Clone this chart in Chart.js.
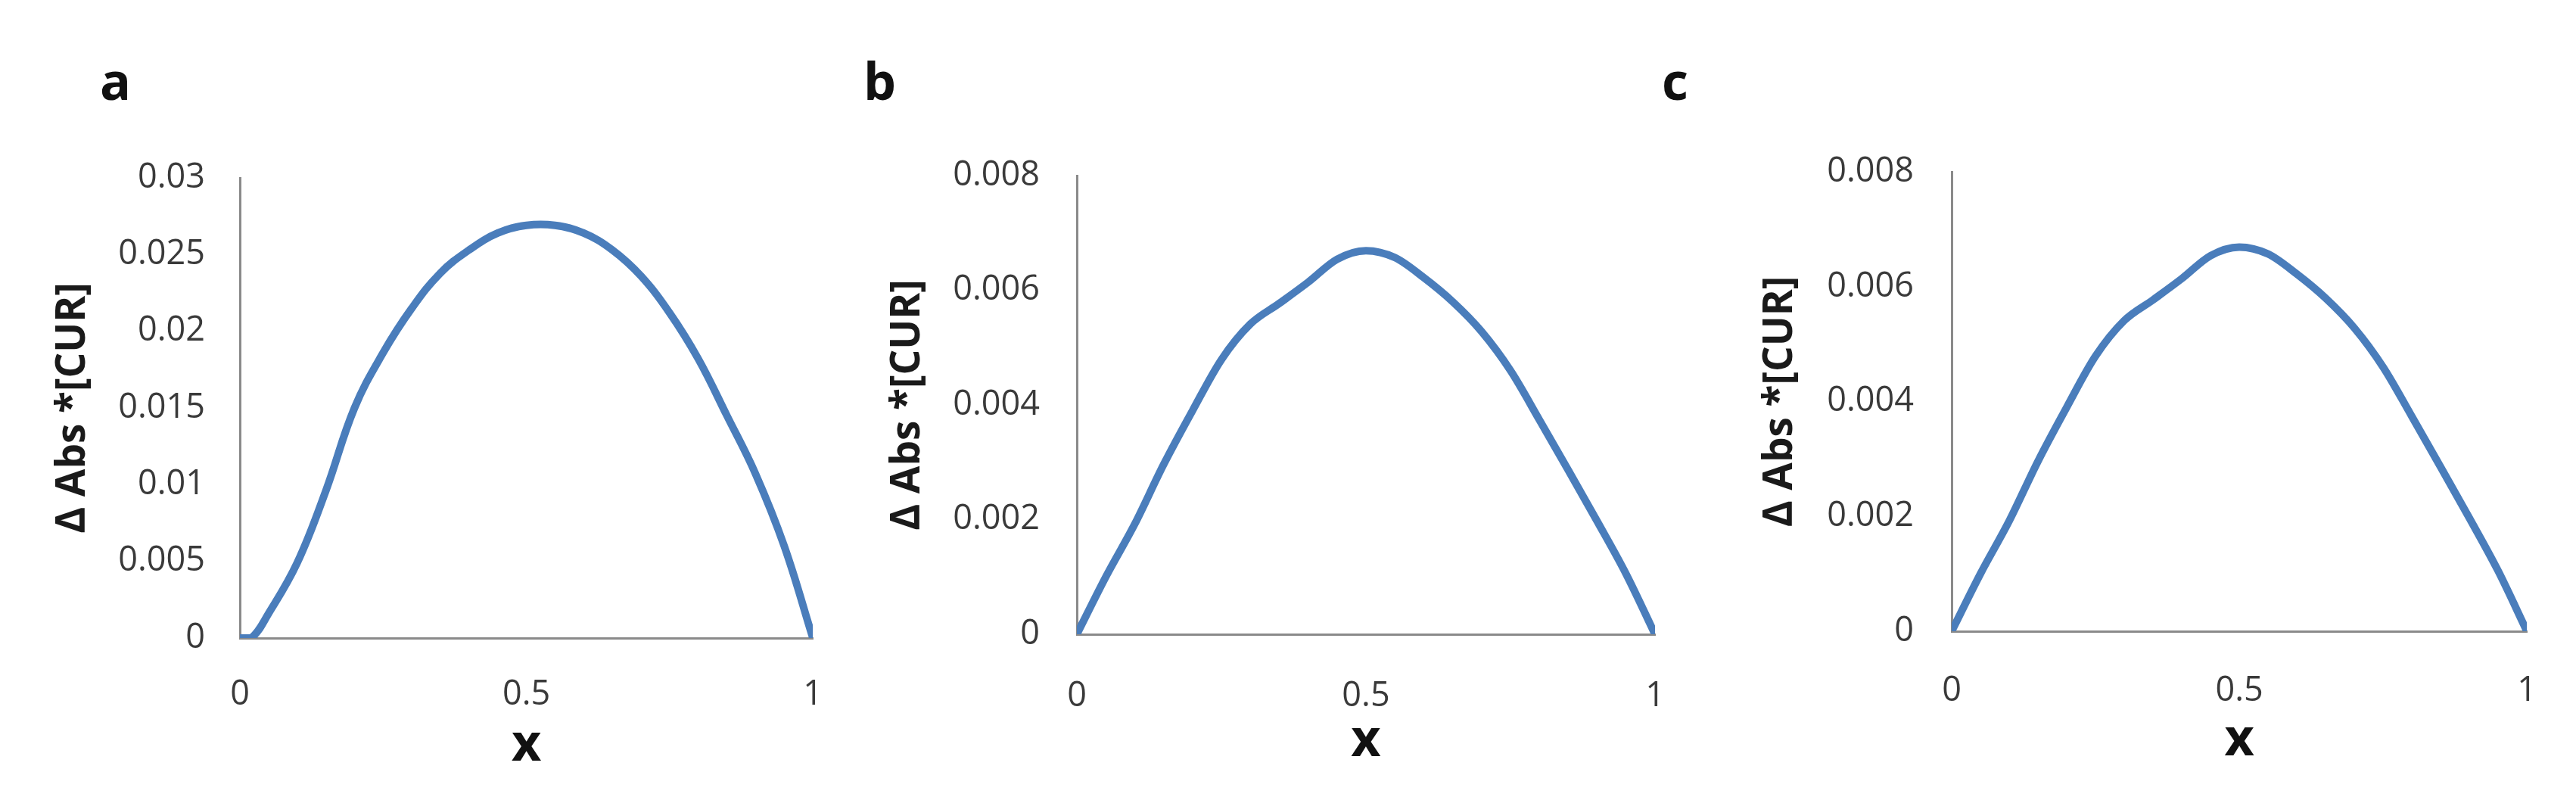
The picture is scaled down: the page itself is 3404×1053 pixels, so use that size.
<!DOCTYPE html>
<html>
<head>
<meta charset="utf-8">
<script src="https://cdn.jsdelivr.net/npm/chart.js@4.4.1/dist/chart.umd.min.js"></script>
<style>
html,body{margin:0;padding:0;background:#fff;}
#wrap{position:relative;width:3404px;height:1053px;overflow:hidden;background:#fff;}
canvas{position:absolute;top:0;}
.lbl{position:absolute;font-family:'Open Sans',sans-serif;font-weight:700;font-size:68px;line-height:68px;color:#111;}
</style>
</head>
<body>
<div id="wrap">
  <canvas id="ca" width="1135" height="1053" style="left:0px"></canvas>
  <canvas id="cb" width="1135" height="1053" style="left:1135px"></canvas>
  <canvas id="cc" width="1134" height="1053" style="left:2270px"></canvas>
  <div class="lbl" style="left:132px;top:72px">a</div>
  <div class="lbl" style="left:1141px;top:72px">b</div>
  <div class="lbl" style="left:2196px;top:72px">c</div>
</div>
<script>
// ---- data ----
const xA = [0, 0.02, 0.05, 0.1, 0.15, 0.2, 0.25, 0.3, 0.35, 0.4, 0.45, 0.5, 0.55, 0.6, 0.65, 0.7, 0.75, 0.8, 0.85, 0.9, 0.95, 1];
const yA = [0, 0, 0.0016, 0.0049, 0.0096, 0.0150, 0.0186, 0.0215, 0.0238, 0.0253, 0.0264, 0.0269, 0.0269, 0.0264, 0.0253, 0.0236, 0.0212, 0.0182, 0.0145, 0.0107, 0.0060, 0];

const xB = [0, 0.05, 0.1, 0.15, 0.2, 0.25, 0.3, 0.35, 0.4, 0.45, 0.5, 0.55, 0.6, 0.65, 0.7, 0.75, 0.8, 0.85, 0.9, 0.95, 1];
const yB = [0, 0.00100, 0.00192, 0.00296, 0.00390, 0.00479, 0.00541, 0.00577, 0.00614, 0.00654, 0.00669, 0.00657, 0.00622, 0.00580, 0.00528, 0.00460, 0.00374, 0.00286, 0.00197, 0.00105, 0];

const xC = [0, 0.05, 0.1, 0.15, 0.2, 0.25, 0.3, 0.35, 0.4, 0.45, 0.5, 0.55, 0.6, 0.65, 0.7, 0.75, 0.8, 0.85, 0.9, 0.95, 1];
const yC = [0, 0.00100, 0.00192, 0.00296, 0.00390, 0.00479, 0.00541, 0.00577, 0.00614, 0.00654, 0.00669, 0.00657, 0.00622, 0.00580, 0.00528, 0.00460, 0.00374, 0.00286, 0.00197, 0.00105, 0];

const yTickValsA = [0, 0.005, 0.01, 0.015, 0.02, 0.025, 0.03];
const yTickLabelsA = ['0', '0.005', '0.01', '0.015', '0.02', '0.025', '0.03'];
const yTickValsBC = [0, 0.002, 0.004, 0.006, 0.008];
const yTickLabelsBC = ['0', '0.002', '0.004', '0.006', '0.008'];
const xTickVals = [0, 0.5, 1];
const xTickLabels = ['0', '0.5', '1'];
const yTitle = 'Δ Abs *[CUR]';
const xTitle = 'x';

// ---- chart builder ----
function makePanel(id, xs, ys, yMax, yVals, yLabels, L) {
  const pts = xs.map((x, i) => ({x: x, y: ys[i]}));
  const ds = {
    data: pts,
    borderColor: '#4a7dbb',
    borderWidth: 10,
    pointRadius: 0,
    fill: false,
    borderCapStyle: 'round',
    borderJoinStyle: 'round'
  };
  if (L.smooth === 'monotone') ds.cubicInterpolationMode = 'monotone';
  else ds.tension = L.smooth;
  return new Chart(document.getElementById(id), {
    type: 'line',
    data: {datasets: [ds]},
    options: {
      responsive: false,
      animation: false,
      events: [],
      layout: {padding: {left: 0, top: L.top, right: L.right, bottom: 0}},
      plugins: {legend: {display: false}, tooltip: {enabled: false}},
      scales: {
        x: {
          type: 'linear', min: 0, max: 1,
          afterBuildTicks: s => { s.ticks = xTickVals.map(v => ({value: v})); },
          afterFit: s => { s.height = L.xH; },
          grid: {display: false, drawTicks: false},
          border: {display: true, color: '#8a8a8a', width: 3},
          ticks: {
            autoSkip: false, maxRotation: 0, padding: L.tickPadX,
            font: {family: 'Open Sans', size: 45}, color: '#3a3a3a',
            callback: (v, i) => xTickLabels[i]
          },
          title: {
            display: true, text: xTitle, color: '#111',
            font: {family: 'Open Sans', size: 68, weight: 'bold'},
            padding: {top: 0, bottom: L.xTitlePad}
          }
        },
        y: {
          type: 'linear', min: 0, max: yMax,
          afterBuildTicks: s => { s.ticks = yVals.map(v => ({value: v})); },
          afterFit: s => { s.width = L.yW; },
          grid: {display: false, drawTicks: false},
          border: {display: true, color: '#8a8a8a', width: 3},
          ticks: {
            autoSkip: false, padding: L.tickPadY,
            font: {family: 'Open Sans', size: 45}, color: '#3a3a3a',
            callback: (v, i) => yLabels[i]
          },
          title: {
            display: true, text: yTitle, color: '#1a1a1a',
            font: {family: 'Open Sans', size: 53, weight: 'bold'},
            padding: {top: L.yTitlePad, bottom: 0}
          }
        }
      }
    }
  });
}

makePanel('ca', xA, yA, 0.03, yTickValsA, yTickLabelsA,
  {top: 235, right: 50, yW: 317, xH: 210, tickPadY: 46, tickPadX: 48, yTitlePad: 65, xTitlePad: 27, smooth: 0.4});
makePanel('cb', xB, yB, 0.008, yTickValsBC, yTickLabelsBC,
  {top: 232, right: 83, yW: 288, xH: 215, tickPadY: 49, tickPadX: 55, yTitlePad: 33, xTitlePad: 33, smooth: 'monotone'});
makePanel('cc', xC, yC, 0.008, yTickValsBC, yTickLabelsBC,
  {top: 227, right: 62, yW: 309, xH: 219, tickPadY: 50, tickPadX: 52, yTitlePad: 51, xTitlePad: 34, smooth: 'monotone'});
</script>
</body>
</html>
